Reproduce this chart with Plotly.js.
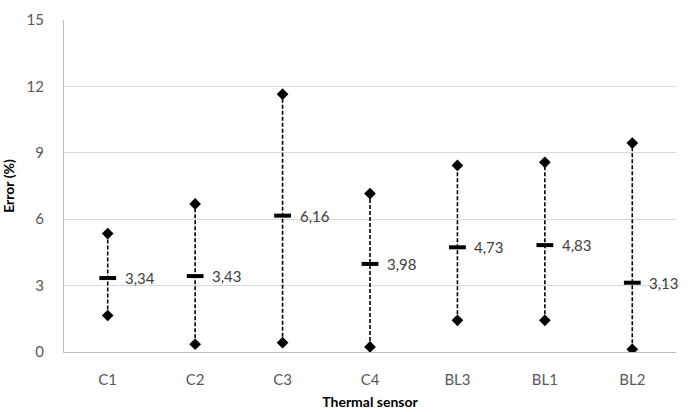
<!DOCTYPE html>
<html>
<head>
<meta charset="utf-8">
<script src="https://cdn.plot.ly/plotly-3.0.1.min.js"></script>
<style>html,body{margin:0;padding:0;background:#fff;}#chart{width:692px;height:412px;}</style>
</head>
<body>
<div id="chart"></div>
<script>
const categories = ["C1", "C2", "C3", "C4", "BL3", "BL1", "BL2"];
const maxValues = [5.35, 6.69, 11.65, 7.16, 8.43, 8.57, 9.44];
const minValues = [1.65, 0.35, 0.42, 0.23, 1.43, 1.43, 0.12];
const meanValues = [3.34, 3.43, 6.16, 3.98, 4.73, 4.83, 3.13];
const meanLabels = ["3,34", "3,43", "6,16", "3,98", "4,73", "4,83", "3,13"];
const yTicks = [0, 3, 6, 9, 12, 15];

const lx = [], ly = [];
categories.forEach((c, i) => {
  lx.push(c, c, null);
  ly.push(minValues[i], maxValues[i], null);
});

const traces = [
  {
    type: "scatter", mode: "lines", x: lx, y: ly,
    line: {color: "#000", width: 1.6, dash: "4px,2px"},
    hoverinfo: "skip", showlegend: false
  },
  {
    type: "scatter", mode: "markers", x: categories, y: maxValues,
    marker: {symbol: "diamond", size: 9, color: "#000"},
    showlegend: false
  },
  {
    type: "scatter", mode: "markers", x: categories, y: minValues,
    marker: {symbol: "diamond", size: 9, color: "#000"},
    showlegend: false
  },
  {
    type: "scatter", mode: "markers", x: categories, y: meanValues,
    marker: {symbol: "line-ew", size: 12, line: {color: "#000", width: 4}},
    showlegend: false
  }
];

const annotations = categories.map((c, i) => ({
  x: c, y: meanValues[i], text: meanLabels[i],
  showarrow: false, xanchor: "left", yanchor: "middle", xshift: 15,
  font: {family: "Lato, 'Open Sans', sans-serif", size: 15, color: "#404040"}
}));

const layout = {
  width: 692, height: 412,
  margin: {l: 64, r: 16, t: 20, b: 60},
  paper_bgcolor: "#fff", plot_bgcolor: "#fff",
  font: {family: "Lato, 'Open Sans', sans-serif", color: "#595959"},
  xaxis: {
    type: "category", categoryarray: categories,
    showgrid: false, zeroline: false,
    showline: true, linecolor: "#bfbfbf", linewidth: 1,
    ticks: "", tickfont: {size: 15, color: "#595959"}, ticklabelstandoff: 14,
    title: {text: "Thermal sensor", font: {size: 14, color: "#000", weight: "bold"}, standoff: 10},
    range: [-0.5, 6.5]
  },
  yaxis: {
    range: [0, 15], tickvals: yTicks, ticktext: yTicks.map(String),
    showgrid: true, gridcolor: "#d9d9d9", gridwidth: 1,
    zeroline: false, showline: true, linecolor: "#bfbfbf", linewidth: 1,
    ticks: "", tickfont: {size: 15, color: "#595959"}, ticklabelstandoff: 16,
    title: {text: "Error (%)", font: {size: 14, color: "#000", weight: "bold"}, standoff: 8}
  },
  annotations: annotations
};

Plotly.newPlot("chart", traces, layout, {displayModeBar: false, staticPlot: true});
</script>
</body>
</html>
